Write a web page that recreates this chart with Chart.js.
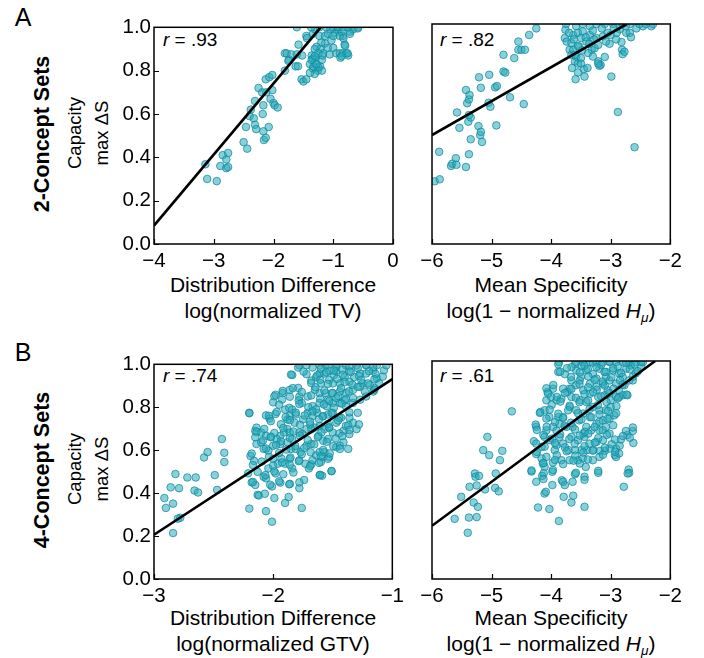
<!DOCTYPE html>
<html><head><meta charset="utf-8">
<script src="https://cdn.jsdelivr.net/npm/chart.js@4.4.0/dist/chart.umd.min.js"></script>
<style>
html,body{margin:0;padding:0;background:#fff;}
#fig{position:relative;width:704px;height:658px;overflow:hidden;background:#fff;font-family:'Liberation Sans',Arial,Helvetica,sans-serif;color:#000;}
#fig canvas{position:absolute;}
.t{position:absolute;white-space:nowrap;line-height:1;transform:translate(-50%,-50%);}
.rot{transform:translate(-50%,-50%) rotate(-90deg);}
.r{position:absolute;white-space:nowrap;line-height:1;transform:translate(0,-50%);font-size:19px;}
sub{font-size:0.65em;vertical-align:-0.35em;line-height:0;font-style:italic;}
</style></head><body>
<div id="fig">
<div class="t" style="left:23px;top:17px;font-size:25px">A</div>
<div class="t" style="left:23px;top:352px;font-size:25px">B</div>
<div class="t rot" style="left:43px;top:134px;font-size:21.5px;font-weight:bold">2-Concept Sets</div>
<div class="t rot" style="left:75px;top:133px;font-size:18.5px">Capacity</div>
<div class="t rot" style="left:102px;top:133px;font-size:18.5px">max ΔS</div>
<div class="t rot" style="left:43px;top:470px;font-size:21.5px;font-weight:bold">4-Concept Sets</div>
<div class="t rot" style="left:75px;top:469px;font-size:18.5px">Capacity</div>
<div class="t rot" style="left:102px;top:469px;font-size:18.5px">max ΔS</div>
<div class="t" style="left:273px;top:284px;font-size:21px">Distribution Difference</div>
<div class="t" style="left:273px;top:310px;font-size:21px">log(normalized TV)</div>
<div class="t" style="left:551px;top:284px;font-size:21px">Mean Specificity</div>
<div class="t" style="left:551px;top:310px;font-size:21px">log(1 − normalized <i>H</i><sub>μ</sub>)</div>
<div class="t" style="left:273px;top:617px;font-size:21px">Distribution Difference</div>
<div class="t" style="left:273px;top:643px;font-size:21px">log(normalized GTV)</div>
<div class="t" style="left:551px;top:617px;font-size:21px">Mean Specificity</div>
<div class="t" style="left:551px;top:643px;font-size:21px">log(1 − normalized <i>H</i><sub>μ</sub>)</div>
<div class="r" style="left:163px;top:39px"><i>r</i> = .93</div>
<div class="r" style="left:440px;top:39px"><i>r</i> = .82</div>
<div class="r" style="left:163px;top:375px"><i>r</i> = .74</div>
<div class="r" style="left:440px;top:375px"><i>r</i> = .61</div>
</div>
<script>
// ---------- data ----------
const yTicks = [0, 0.2, 0.4, 0.6, 0.8, 1.0];
const yTickLabels = ['0.0', '0.2', '0.4', '0.6', '0.8', '1.0'];
const xTicksTV = [-4, -3, -2, -1, 0];
const xLabelsTV = ['\u22124', '\u22123', '\u22122', '\u22121', '0'];
const xTicksGTV = [-3, -2, -1];
const xLabelsGTV = ['\u22123', '\u22122', '\u22121'];
const xTicksSpec = [-6, -5, -4, -3, -2];
const xLabelsSpec = ['\u22126', '\u22125', '\u22124', '\u22123', '\u22122'];

// regression lines (endpoints)
const fitA1 = [[-4, 0.085], [-1.21, 1.0]];
const fitA2 = [[-6, 0.495], [-2.73, 1.0]];
const fitB1 = [[-3, 0.206], [-1, 0.931]];
const fitB2 = [[-6, 0.244], [-2.254, 1.0]];

// 2-concept sets: distribution difference vs capacity
const ptsA1 = [[-3.14,0.368],[-3.11,0.30],[-2.95,0.29],[-2.85,0.41],[-2.76,0.42],[-2.79,0.39],[-2.89,0.36],[-2.79,0.35],[-2.76,0.355],[-2.50,0.47],[-2.44,0.44],[-2.46,0.54],[-2.40,0.59],[-2.38,0.62],[-2.31,0.66],[-2.33,0.58],[-2.31,0.55],[-2.29,0.53],[-2.18,0.60],[-2.17,0.64],[-2.17,0.52],[-2.16,0.48],[-2.13,0.49],[-2.08,0.54],[-2.19,0.70],[-2.12,0.70],[-2.05,0.67],[-2.02,0.71],[-2.00,0.65],[-1.98,0.64],[-1.93,0.63],[-2.13,0.76],[-2.07,0.77],[-2.02,0.78],[-2.25,0.72],[-1.81,0.80],[-1.81,0.88],[-1.78,0.88],[-1.74,0.85],[-1.70,0.875],[-1.63,0.82],[-1.59,0.82],[-1.53,0.76],[-1.50,0.75],[-1.45,0.76],[-1.52,0.87],[-1.45,0.96],[-1.34,0.97],[-1.39,0.83],[-1.36,0.87],[-1.34,0.81],[-1.30,0.83],[-1.29,0.86],[-1.26,0.80],[-1.22,0.82],[-1.19,0.85],[-1.22,0.90],[-1.17,0.88],[-1.14,0.925],[-1.09,0.905],[-1.06,0.875],[-1.03,0.94],[-1.00,0.905],[-0.97,0.975],[-0.95,0.88],[-0.89,0.88],[-0.84,0.96],[-0.81,0.92],[-0.84,0.88],[-0.78,0.88],[-0.75,0.87],[-0.88,0.86],[-0.72,0.98],[-0.67,0.99],[-0.58,1.0],[-0.75,1.0],[-1.61,1.0],[-1.30,0.99],[-1.23,0.96],[-1.20,0.93],[-1.28,0.91],[-1.14,0.96],[-1.09,0.97],[-1.05,0.99],[-1.00,0.96],[-0.92,0.99],[-0.86,0.98],[-1.12,1.0],[-1.00,1.0],[-0.92,1.0],[-0.84,1.0],[-1.23,1.0],[-1.37,1.0],[-1.31,0.90],[-1.25,0.88],[-1.18,0.87],[-1.34,0.855],[-1.19,0.80],[-1.31,0.785],[-1.25,0.815],[-1.58,0.92],[-1.44,0.95],[-0.80,0.915],[-0.76,0.88],[-0.86,0.867],[-0.89,0.96],[-0.83,0.95],[-0.72,0.97],[-0.59,0.995],[-1.75,0.845],[-1.61,0.875],[-1.39,0.79],[-1.33,0.82],[-1.28,0.83],[-1.36,0.85],[-1.31,0.867]];

// 2-concept sets: mean specificity vs capacity
const ptsA2 = [[-5.955,0.285],[-5.87,0.294],[-5.88,0.419],[-5.68,0.355],[-5.66,0.365],[-5.60,0.39],[-5.59,0.36],[-5.43,0.35],[-5.38,0.408],[-5.35,0.476],[-5.19,0.495],[-5.16,0.464],[-5.22,0.536],[-5.18,0.51],[-5.54,0.528],[-5.58,0.598],[-5.39,0.556],[-5.35,0.575],[-5.38,0.586],[-5.41,0.64],[-5.38,0.657],[-5.37,0.677],[-5.43,0.70],[-5.18,0.71],[-5.21,0.758],[-5.04,0.769],[-5.05,0.642],[-5.02,0.624],[-4.94,0.712],[-4.91,0.718],[-4.92,0.539],[-4.69,0.667],[-4.46,0.636],[-4.80,0.784],[-4.77,0.779],[-4.80,0.86],[-4.62,0.845],[-4.55,0.883],[-4.50,0.883],[-4.44,0.883],[-4.55,0.92],[-4.37,0.95],[-4.25,0.98],[-3.76,0.974],[-3.77,0.936],[-3.74,0.92],[-3.69,0.883],[-3.66,0.86],[-3.60,0.83],[-3.55,0.82],[-3.59,0.749],[-3.44,0.761],[-3.45,0.795],[-3.39,0.80],[-3.63,0.95],[-3.55,0.96],[-3.50,0.936],[-3.47,0.966],[-3.41,0.92],[-3.35,0.95],[-3.32,0.883],[-3.27,0.89],[-3.21,0.905],[-3.21,0.83],[-3.17,0.814],[-3.10,0.85],[-3.13,0.944],[-3.05,0.96],[-2.99,0.761],[-2.88,0.60],[-2.82,0.918],[-2.81,0.883],[-2.80,0.863],[-2.77,0.874],[-2.74,0.96],[-2.68,0.96],[-2.60,0.44],[-2.57,0.98],[-2.46,0.99],[-2.32,0.99],[-2.29,1.0],[-3.58,0.99],[-3.35,0.99],[-3.24,1.0],[-2.96,1.0],[-2.80,1.0],[-3.75,1.0],[-3.47,1.0],[-3.10,1.0],[-2.68,1.0],[-2.52,1.0],[-2.41,1.0],[-2.85,0.977],[-2.91,0.93],[-3.02,0.91],[-3.53,0.897],[-3.63,0.883],[-3.58,0.852],[-3.50,0.845],[-3.38,0.868],[-3.30,0.852],[-3.66,0.913],[-3.24,0.936],[-3.19,0.81],[-3.21,0.82],[-2.66,0.94],[-3.70,0.96],[-3.62,0.93],[-3.55,0.90],[-3.48,0.88],[-3.42,0.94],[-3.36,0.91],[-3.30,0.97],[-3.28,0.93],[-3.15,0.98],[-3.08,0.92],[-3.00,0.95],[-2.95,0.98],[-2.90,0.96],[-2.75,0.99],[-3.60,0.86],[-3.65,0.80],[-3.50,0.82],[-3.55,0.78]];

// 4-concept sets: distribution difference vs capacity
const ptsB1 = [[-2.913,0.377],[-2.90,0.331],[-2.86,0.427],[-2.84,0.351],[-2.82,0.489],[-2.79,0.423],[-2.78,0.285],[-2.80,0.281],[-2.84,0.214],[-2.72,0.473],[-2.65,0.473],[-2.66,0.412],[-2.63,0.403],[-2.58,0.566],[-2.55,0.591],[-2.49,0.484],[-2.47,0.415],[-2.43,0.652],[-2.41,0.588],[-2.41,0.545],[-2.21,0.492],[-2.20,0.774],[-2.19,0.573],[-2.18,0.45],[-2.16,0.55],[-2.15,0.438],[-2.13,0.392],[-2.12,0.389],[-2.20,0.328],[-2.06,0.316],[-2.01,0.267],[-2.07,0.397],[-1.99,0.377],[-2.08,0.476],[-2.06,0.469],[-2.04,0.515],[-2.01,0.431],[-1.98,0.492],[-1.94,0.449],[-1.90,0.354],[-1.87,0.382],[-1.86,0.443],[-1.84,0.515],[-1.76,0.331],[-1.78,0.423],[-1.74,0.461],[-2.15,0.69],[-2.14,0.705],[-2.14,0.629],[-2.10,0.637],[-2.06,0.762],[-2.03,0.747],[-1.98,0.769],[-2.00,0.823],[-1.98,0.858],[-1.92,0.866],[-1.86,0.881],[-1.84,0.95],[-1.79,0.89],[-1.78,0.85],[-1.76,0.82],[-1.90,0.789],[-1.88,0.743],[-1.86,0.759],[-1.84,0.789],[-1.81,0.766],[-1.82,0.728],[-1.88,0.698],[-1.91,0.682],[-1.94,0.667],[-1.97,0.652],[-2.00,0.621],[-2.04,0.598],[-2.08,0.606],[-2.10,0.682],[-2.06,0.667],[-2.02,0.66],[-1.94,0.629],[-1.88,0.637],[-1.84,0.652],[-1.78,0.682],[-1.86,0.682],[-1.85,0.606],[-1.81,0.606],[-1.77,0.591],[-1.72,0.621],[-1.68,0.629],[-1.64,0.576],[-1.61,0.591],[-1.58,0.568],[-1.60,0.545],[-1.70,0.515],[-1.68,0.534],[-1.61,0.484],[-1.59,0.481],[-1.57,0.591],[-1.53,0.568],[-1.51,0.502],[-1.54,0.56],[-2.00,0.56],[-1.96,0.537],[-1.90,0.537],[-1.93,0.56],[-1.86,0.56],[-1.78,0.553],[-1.73,0.537],[-1.67,0.553],[-1.47,0.614],[-1.44,0.621],[-1.41,0.637],[-1.37,0.606],[-1.41,0.69],[-1.36,0.675],[-1.39,0.713],[-1.33,0.728],[-1.36,0.751],[-1.30,0.698],[-1.28,0.72],[-1.29,0.774],[-1.43,0.751],[-1.47,0.728],[-1.50,0.682],[-1.54,0.652],[-1.58,0.644],[-1.62,0.667],[-1.65,0.705],[-1.61,0.713],[-1.57,0.698],[-1.53,0.705],[-1.72,0.698],[-1.69,0.72],[-1.75,0.743],[-1.71,0.774],[-1.67,0.759],[-1.63,0.774],[-1.58,0.759],[-1.54,0.766],[-1.50,0.774],[-1.67,0.805],[-1.61,0.82],[-1.55,0.805],[-1.50,0.82],[-1.44,0.82],[-1.39,0.805],[-1.33,0.82],[-1.27,0.835],[-1.22,0.85],[-1.16,0.873],[-1.15,0.889],[-1.19,0.904],[-1.25,0.911],[-1.13,0.934],[-1.22,0.957],[-1.16,0.972],[-1.13,0.995],[-1.22,0.995],[-1.30,0.995],[-1.39,0.995],[-1.47,0.995],[-1.56,0.995],[-1.61,0.995],[-1.78,0.995],[-1.67,0.985],[-1.72,0.954],[-1.68,0.924],[-1.64,0.94],[-1.60,0.911],[-1.57,0.957],[-1.53,0.927],[-1.49,0.95],[-1.44,0.911],[-1.40,0.94],[-1.36,0.919],[-1.32,0.94],[-1.27,0.957],[-1.33,0.881],[-1.39,0.866],[-1.44,0.873],[-1.50,0.866],[-1.56,0.866],[-1.61,0.866],[-1.65,0.881],[-1.71,0.85],[-1.27,0.896],[-1.23,0.873],[-1.50,0.911],[-1.47,0.969],[-1.36,0.969],[-1.53,0.969],[-1.61,0.957],[-1.33,0.843],[-1.40,0.832],[-1.47,0.843],[-1.54,0.835],[-1.11,0.911],[-1.08,0.943],[-1.07,0.972],[-1.05,0.995],[-1.15,0.881],
[-1.79,0.985],[-1.72,0.995],[-1.60,0.98],[-1.54,0.998],[-1.47,0.988],[-1.42,0.975],[-1.36,0.992],[-1.29,0.982],[-1.22,0.997],[-1.16,0.986],
[-1.85,0.952],[-1.745,0.966],[-1.63,0.948],[-1.555,0.962],[-1.49,0.971],[-1.415,0.951],[-1.35,0.964],[-1.28,0.946],[-1.195,0.968],[-1.14,0.955],
[-1.68,0.913],[-1.605,0.928],[-1.54,0.909],[-1.465,0.932],[-1.40,0.917],[-1.335,0.905],[-1.26,0.926],[-1.205,0.911],[-1.15,0.93],
[-1.92,0.876],[-1.835,0.889],[-1.76,0.871],[-1.645,0.893],[-1.57,0.878],[-1.505,0.866],[-1.43,0.889],[-1.365,0.874],[-1.29,0.895],
[-1.99,0.851],[-1.925,0.836],[-1.86,0.849],[-1.785,0.832],[-1.68,0.855],[-1.605,0.84],[-1.53,0.829],[-1.455,0.852],[-1.39,0.838],
[-1.95,0.812],[-1.865,0.797],[-1.78,0.815],[-1.705,0.80],[-1.64,0.79],[-1.575,0.813],[-1.49,0.798],[-1.425,0.817],
[-2.20,0.772],[-2.035,0.76],[-1.97,0.778],[-1.895,0.754],[-1.81,0.775],[-1.735,0.762],[-1.67,0.781],[-1.585,0.757],[-1.51,0.773],[-1.445,0.751],[-1.36,0.776],
[-2.02,0.735],[-1.935,0.721],[-1.86,0.74],[-1.775,0.718],[-1.69,0.733],[-1.615,0.744],[-1.54,0.722],[-1.455,0.738],[-1.37,0.716],
[-2.14,0.684],[-2.075,0.699],[-1.99,0.68],[-1.915,0.703],[-1.83,0.687],[-1.755,0.676],[-1.68,0.697],[-1.595,0.683],[-1.53,0.706],[-1.445,0.678],[-1.36,0.694],
[-2.15,0.66],[-2.085,0.645],[-2.02,0.663],[-1.935,0.641],[-1.86,0.657],[-1.775,0.668],[-1.71,0.647],[-1.625,0.661],[-1.55,0.639],[-1.475,0.655],[-1.42,0.666],
[-2.06,0.608],[-1.975,0.624],[-1.89,0.603],[-1.815,0.62],[-1.74,0.61],[-1.655,0.627],[-1.58,0.601],[-1.495,0.619],[-1.44,0.606],
[-2.18,0.584],[-2.035,0.569],[-1.95,0.587],[-1.855,0.566],[-1.76,0.581],[-1.685,0.59],[-1.60,0.571],[-1.525,0.585],
[-2.17,0.531],[-2.095,0.547],[-2.00,0.528],[-1.925,0.543],[-1.86,0.532],[-1.785,0.549],[-1.69,0.526],[-1.615,0.541],
[-2.13,0.499],[-2.065,0.484],[-1.99,0.501],[-1.915,0.488],[-1.83,0.496],[-1.605,0.485],[-1.51,0.503],
[-2.17,0.452],[-2.025,0.439],[-1.95,0.455],[-1.865,0.441],[-1.78,0.45]];

// 4-concept sets: mean specificity vs capacity
const ptsB2 = [[-5.62,0.276],[-5.51,0.377],[-5.40,0.212],[-5.38,0.282],[-5.37,0.423],[-5.30,0.351],[-5.28,0.484],[-5.27,0.469],[-5.25,0.429],[-5.23,0.331],[-5.25,0.284],[-5.21,0.473],[-5.11,0.411],[-5.14,0.591],[-5.07,0.652],[-5.04,0.568],[-4.93,0.484],[-4.94,0.418],[-4.88,0.402],[-4.86,0.545],[-4.82,0.588],[-4.66,0.769],[-4.33,0.493],[-4.25,0.446],[-4.25,0.573],[-4.29,0.632],[-4.22,0.328],[-4.25,0.698],[-4.26,0.708],[-4.18,0.766],[-4.16,0.553],[-4.14,0.53],[-4.11,0.514],[-4.15,0.473],[-4.11,0.392],[-4.09,0.40],[-4.03,0.321],[-3.98,0.492],[-3.98,0.431],[-3.97,0.534],[-3.87,0.266],[-3.82,0.453],[-3.79,0.377],[-3.77,0.431],[-3.66,0.351],[-3.64,0.446],[-3.63,0.382],[-3.60,0.481],[-3.44,0.331],[-3.44,0.469],[-3.42,0.514],[-3.21,0.487],[-2.78,0.423],[-2.70,0.502],[-2.69,0.487],[-2.62,0.624],[-2.63,0.679],[-2.72,0.66],[-2.83,0.64],[-2.93,0.568],[-2.91,0.598],[-3.02,0.598],[-3.10,0.588],[-3.18,0.588],[-3.29,0.591],[-3.40,0.591],[-3.49,0.591],[-3.60,0.591],[-3.71,0.591],[-3.83,0.545],[-3.69,0.545],[-3.55,0.545],[-3.80,0.621],[-3.91,0.614],[-4.02,0.637],[-4.11,0.652],[-4.08,0.682],[-3.97,0.698],[-3.86,0.713],[-3.80,0.743],[-4.03,0.743],[-4.11,0.774],[-4.08,0.82],[-4.06,0.858],[-3.97,0.873],[-4.00,0.835],[-3.91,0.82],[-3.83,0.827],[-3.66,0.835],[-3.69,0.789],[-3.58,0.774],[-3.53,0.728],[-3.64,0.698],[-3.66,0.652],[-3.55,0.637],[-3.44,0.652],[-3.36,0.621],[-3.24,0.629],[-3.13,0.637],[-3.02,0.667],[-3.33,0.682],[-3.24,0.713],[-3.13,0.728],[-3.35,0.743],[-3.46,0.759],[-3.30,0.789],[-3.19,0.774],[-3.08,0.774],[-3.00,0.789],[-3.00,0.82],[-2.91,0.835],[-2.80,0.843],[-2.72,0.843],[-2.86,0.866],[-2.77,0.889],[-2.69,0.911],[-2.63,0.911],[-2.58,0.943],[-2.49,0.972],[-2.46,0.995],[-2.58,0.995],[-2.69,0.995],[-2.80,0.995],[-2.91,0.995],[-3.02,0.995],[-3.13,0.995],[-3.24,0.995],[-3.35,0.995],[-3.47,0.995],[-3.60,0.985],[-3.87,0.995],[-3.88,0.95],[-3.77,0.94],[-3.66,0.911],[-3.69,0.873],[-3.58,0.889],[-3.50,0.927],[-3.41,0.957],[-3.30,0.94],[-3.19,0.965],[-3.08,0.95],[-2.96,0.957],[-2.86,0.943],[-2.74,0.965],[-3.35,0.896],[-3.24,0.881],[-3.13,0.896],[-3.02,0.911],[-2.91,0.896],[-3.46,0.866],[-3.35,0.85],[-3.21,0.835],[-3.10,0.843],[-3.05,0.866],[-3.52,0.82],[-3.41,0.812],[-3.58,0.957],[-3.49,0.976],[-3.24,0.919],[-3.08,0.927],[-2.80,0.927],[-2.66,0.98],[-3.66,0.972],[-3.73,0.858],[-3.80,0.873],[-3.88,0.743],[-3.74,0.698],[-3.86,0.652],[-3.94,0.591],[-4.08,0.56],[-4.25,0.621],[-4.16,0.606],[-2.91,0.56],[-2.86,0.576],[-3.19,0.56],[-3.30,0.545],[-3.47,0.553],[-3.02,0.736],[-2.94,0.751],[-2.86,0.835],[-3.19,0.682],[-3.08,0.698],[-3.41,0.698],[-3.46,0.667],
[-3.88,0.985],[-3.58,0.996],[-3.44,0.979],[-3.30,0.992],[-3.16,0.983],[-3.02,0.998],[-2.88,0.976],[-2.74,0.991],[-2.60,0.984],[-2.49,0.995],
[-3.85,0.951],[-3.735,0.967],[-3.52,0.948],[-3.385,0.963],[-3.24,0.972],[-3.105,0.95],[-2.96,0.966],[-2.825,0.945],[-2.68,0.962],[-2.545,0.953],
[-3.665,0.927],[-3.52,0.911],[-3.375,0.929],[-3.27,0.914],[-3.135,0.906],[-2.99,0.925],[-2.845,0.912],[-2.63,0.928],
[-4.08,0.875],[-3.965,0.89],[-3.66,0.872],[-3.525,0.894],[-3.38,0.879],[-3.235,0.868],[-3.10,0.887],[-2.955,0.873],[-2.80,0.891],
[-4.05,0.85],[-3.905,0.835],[-3.77,0.853],[-3.585,0.831],[-3.44,0.848],[-3.295,0.857],[-3.16,0.838],[-3.025,0.852],[-2.88,0.829],[-2.735,0.846],
[-3.99,0.799],[-3.845,0.814],[-3.69,0.795],[-3.525,0.811],[-3.38,0.819],[-3.215,0.798],[-3.07,0.812],[-2.905,0.793],
[-4.19,0.762],[-4.025,0.777],[-3.88,0.758],[-3.715,0.774],[-3.55,0.761],[-3.355,0.78],[-3.19,0.755],[-3.045,0.771],[-2.91,0.76],
[-4.08,0.736],[-3.935,0.72],[-3.80,0.738],[-3.665,0.717],[-3.49,0.732],[-3.325,0.742],[-3.19,0.721],[-3.055,0.735],
[-4.24,0.684],[-4.075,0.698],[-3.91,0.68],[-3.775,0.702],[-3.60,0.686],[-3.435,0.675],[-3.27,0.697],[-3.135,0.682],[-2.96,0.705],[-2.745,0.679],[-2.63,0.695],
[-4.13,0.66],[-3.985,0.644],[-3.85,0.664],[-3.695,0.642],[-3.52,0.658],[-3.375,0.667],[-3.21,0.646],[-3.065,0.661],[-2.93,0.64],[-2.795,0.656],[-2.68,0.648],
[-4.11,0.607],[-3.935,0.623],[-3.77,0.604],[-3.605,0.621],[-3.44,0.609],[-3.265,0.626],[-3.10,0.602],[-2.985,0.618],[-2.85,0.611],
[-4.24,0.583],[-3.905,0.568],[-3.74,0.586],[-3.595,0.566],[-3.46,0.58],[-3.305,0.589],[-3.13,0.57],[-2.925,0.584],
[-4.13,0.532],[-3.935,0.546],[-3.80,0.527],[-3.625,0.543],[-3.52,0.53],[-3.385,0.548],
[-4.33,0.498],[-4.125,0.485],[-3.97,0.50],[-3.585,0.487],[-3.21,0.496],[-2.715,0.484],
[-4.13,0.459],[-3.80,0.446],[-3.44,0.455]];

// ---------- drawing ----------
const FONT = "'Liberation Sans', Arial, Helvetica, sans-serif";
const boxTicks = {
  id: 'boxTicks',
  afterDraw(chart, args, opts) {
    const {ctx, chartArea: a} = chart;
    const xs = chart.scales.x, ys = chart.scales.y;
    ctx.save();
    ctx.strokeStyle = '#000';
    ctx.lineWidth = 1.2;
    ctx.beginPath();
    xs.ticks.forEach(t => {
      const p = Math.round(xs.getPixelForValue(t.value)) + 0.5;
      ctx.moveTo(p, a.bottom); ctx.lineTo(p, a.bottom - 5);
    });
    if (opts.yTicks) {
      ys.ticks.forEach(t => {
        const p = Math.round(ys.getPixelForValue(t.value)) + 0.5;
        ctx.moveTo(a.left, p); ctx.lineTo(a.left + 5, p);
      });
    }
    ctx.stroke();
    ctx.lineWidth = 1.5;
    ctx.strokeRect(a.left, a.top, a.width, a.height);
    ctx.restore();
  }
};

const PAD_L = 50, PAD_T = 12, PAD_R = 16, PAD_B = 30;
function panel(rect, pts, fit, xTicks, xLabels, showY) {
  const fig = document.getElementById('fig');
  const c = document.createElement('canvas');
  const w = rect.r - rect.l + PAD_L + PAD_R, h = rect.b - rect.t + PAD_T + PAD_B;
  c.width = w; c.height = h;
  c.style.left = (rect.l - PAD_L) + 'px';
  c.style.top = (rect.t - PAD_T) + 'px';
  c.style.width = w + 'px'; c.style.height = h + 'px';
  fig.appendChild(c);
  new Chart(c, {
    data: {
      datasets: [
        { type: 'line', data: fit.map(p => ({x: p[0], y: p[1]})), borderColor: '#000', borderWidth: 2.6,
          pointRadius: 0, fill: false, tension: 0 },
        { type: 'scatter', data: pts.map(p => ({x: p[0], y: p[1]})), clip: 0,
          backgroundColor: 'rgba(40,172,188,0.55)', borderColor: 'rgba(18,138,158,0.75)',
          pointRadius: 3.8, pointBorderWidth: 1, pointHoverRadius: 3.8 }
      ]
    },
    options: {
      responsive: false, animation: false, devicePixelRatio: 1,
      layout: { padding: { left: 0, top: PAD_T, right: PAD_R, bottom: 0 } },
      plugins: { legend: { display: false }, tooltip: { enabled: false }, boxTicks: { yTicks: showY } },
      scales: {
        x: {
          type: 'linear', min: xTicks[0], max: xTicks[xTicks.length - 1],
          afterBuildTicks: s => { s.ticks = xTicks.map(v => ({value: v})); },
          afterFit: s => { s.height = PAD_B; },
          grid: { display: false, drawTicks: false }, border: { display: false },
          ticks: { autoSkip: false, maxRotation: 0, padding: 5, color: '#000',
                   font: { family: FONT, size: 20.5 },
                   callback: v => xLabels[xTicks.indexOf(v)] }
        },
        y: {
          type: 'linear', min: 0, max: 1,
          afterBuildTicks: s => { s.ticks = yTicks.map(v => ({value: v})); },
          afterFit: s => { s.width = PAD_L; },
          grid: { display: false, drawTicks: false }, border: { display: false },
          ticks: { display: showY, autoSkip: false, padding: 3, color: '#000',
                   font: { family: FONT, size: 20.5 },
                   callback: v => yTickLabels[yTicks.indexOf(v)] }
        }
      }
    },
    plugins: [boxTicks]
  });
}

panel({l:154, r:393, t:24, b:244}, ptsA1, fitA1, xTicksTV, xLabelsTV, true);
panel({l:432, r:671, t:24, b:244}, ptsA2, fitA2, xTicksSpec, xLabelsSpec, false);
panel({l:154, r:393, t:361, b:579}, ptsB1, fitB1, xTicksGTV, xLabelsGTV, true);
panel({l:432, r:671, t:361, b:579}, ptsB2, fitB2, xTicksSpec, xLabelsSpec, false);
</script>
</body></html>
